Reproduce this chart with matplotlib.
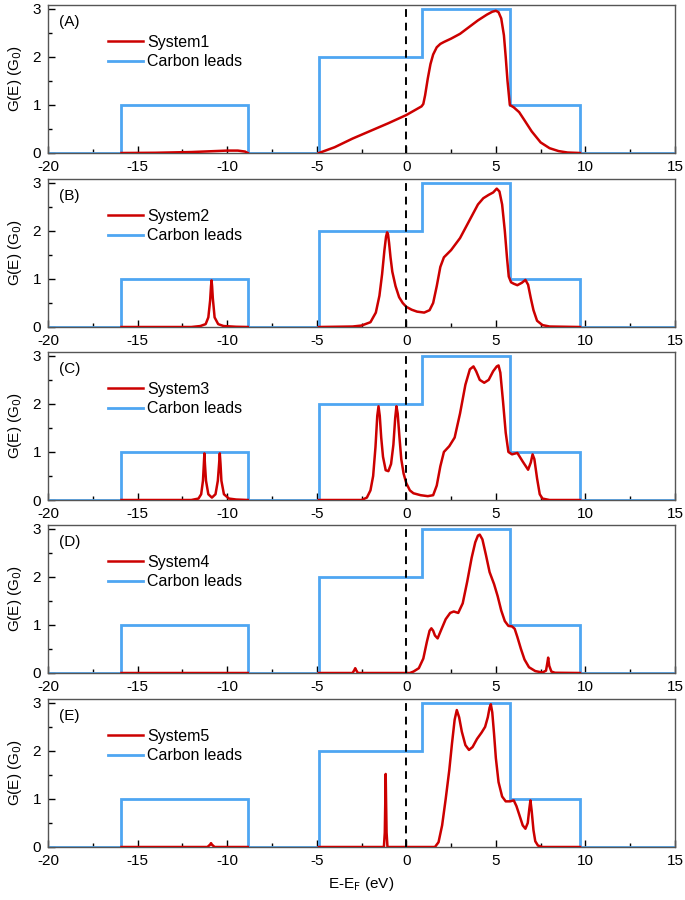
import matplotlib
matplotlib.use("Agg")
import matplotlib.pyplot as plt
import numpy as np
from matplotlib.ticker import MultipleLocator

plt.rcParams['font.family'] = ['Liberation Sans', 'DejaVu Sans']
plt.rcParams['axes.unicode_minus'] = False

# carbon leads: step edges and levels
lead_edges = [-20, -15.9, -8.85, -4.88, 0.85, 5.78, 9.7, 15]
lead_levels = [0, 1, 0, 2, 3, 1, 0]

panel_tags = ['(A)', '(B)', '(C)', '(D)', '(E)']
system_names = ['System1', 'System2', 'System3', 'System4', 'System5']

nan = np.nan
# System1
s1_x = [-15.9, -14, -12, -11, -10, -9.4, -9.0, -8.85, nan,
        -4.88, -4, -3, -2, -1, 0, 0.85, 0.95, 1.05, 1.2, 1.35, 1.5, 1.7, 1.9, 2.1, 2.5, 3.0, 3.5,
        4.0, 4.5, 4.8, 5.0, 5.15, 5.3, 5.45, 5.55, 5.65, 5.78, 6.0, 6.3, 6.6, 7.0, 7.5, 8.0,
        8.5, 9.0, 9.7]
s1_y = [0, 0.005, 0.02, 0.035, 0.05, 0.05, 0.03, 0, nan,
        0, 0.12, 0.3, 0.46, 0.62, 0.79, 0.97, 1.02, 1.2, 1.55, 1.85, 2.05, 2.2, 2.27, 2.31, 2.38, 2.48, 2.62,
        2.76, 2.88, 2.94, 2.96, 2.93, 2.8, 2.45, 2.0, 1.5, 1.0, 0.95, 0.85, 0.68, 0.45, 0.22, 0.1,
        0.04, 0.01, 0]
# System2
s2_x = [-15.9, -12, -11.5, -11.2, -11.05, -10.95, -10.9, -10.87, -10.84, -10.8, -10.7, -10.5, -10.2,
        -9.5, -8.85, nan,
        -4.88, -3, -2.5, -2, -1.7, -1.5, -1.35, -1.22, -1.13, -1.07, -1.02, -0.96, -0.88, -0.78,
        -0.6, -0.4, -0.2, 0, 0.3, 0.6, 1.0, 1.3, 1.5, 1.7, 1.9, 2.1, 2.5, 3.0, 3.5, 4.0, 4.3,
        4.6, 4.85, 5.05, 5.2, 5.35, 5.5, 5.62, 5.72, 5.85, 6.0, 6.2, 6.45, 6.65, 6.8, 6.95, 7.1,
        7.3, 7.6, 8.0, 9.7]
s2_y = [0, 0, 0.02, 0.06, 0.2, 0.55, 0.85, 0.97, 0.85, 0.6, 0.2, 0.06, 0.02,
        0.005, 0, nan,
        0, 0.01, 0.03, 0.1, 0.3, 0.65, 1.1, 1.6, 1.88, 1.97, 1.93, 1.75, 1.45, 1.15,
        0.85, 0.62, 0.5, 0.42, 0.36, 0.32, 0.3, 0.35, 0.5, 0.85, 1.25, 1.45, 1.6, 1.85, 2.2, 2.55,
        2.68, 2.75, 2.8, 2.88, 2.82, 2.55, 2.0, 1.45, 1.05, 0.93, 0.9, 0.87, 0.92, 0.98, 0.88, 0.6,
        0.35, 0.13, 0.04, 0.01, 0]
# System3
s3_x = [-15.9, -12, -11.6, -11.45, -11.35, -11.3, -11.27, -11.24, -11.18, -11.05, -10.85,
        -10.65, -10.52, -10.45, -10.41, -10.37, -10.32, -10.18, -9.9, -9.5, -8.85, nan,
        -4.88, -2.5, -2.2, -2.0, -1.85, -1.72, -1.62, -1.55, -1.48, -1.4, -1.3, -1.15, -1.0,
        -0.85, -0.72, -0.62, -0.55, -0.48, -0.38, -0.28, -0.15, 0.0, 0.2, 0.4, 0.8, 1.2, 1.5,
        1.7, 1.9, 2.1, 2.4, 2.7, 3.0, 3.3, 3.55, 3.75, 3.9, 4.1, 4.35, 4.6, 4.85, 5.05, 5.15,
        5.25, 5.4, 5.55, 5.7, 5.9, 6.2, 6.5, 6.8, 6.95, 7.05, 7.15, 7.3, 7.45, 7.6, 8.0, 9.7]
s3_y = [0, 0, 0.03, 0.12, 0.4, 0.75, 0.97, 0.75, 0.4, 0.12, 0.05,
        0.12, 0.4, 0.75, 0.97, 0.75, 0.4, 0.12, 0.03, 0.01, 0, nan,
        0, 0, 0.05, 0.2, 0.5, 1.1, 1.75, 1.95, 1.75, 1.3, 0.9, 0.62, 0.6,
        0.75, 1.15, 1.7, 1.95, 1.8, 1.3, 0.85, 0.55, 0.35, 0.2, 0.14, 0.1, 0.08, 0.1,
        0.3, 0.7, 1.0, 1.12, 1.3, 1.8, 2.4, 2.72, 2.78, 2.68, 2.5, 2.44, 2.5, 2.68, 2.78, 2.8,
        2.65, 2.05, 1.4, 1.0, 0.95, 0.98, 0.8, 0.63, 0.78, 0.95, 0.85, 0.45, 0.12, 0.03, 0, 0]
# System4
s4_x = [-15.9, -8.85, nan,
        -4.88, -3.0, -2.9, -2.85, -2.8, -2.7, 0.2, 0.4, 0.7, 0.95, 1.15, 1.3, 1.4, 1.5, 1.6,
        1.75, 1.95, 2.2, 2.45, 2.65, 2.9, 3.15, 3.4, 3.65, 3.85, 4.0, 4.1, 4.25, 4.45, 4.65,
        4.9, 5.1, 5.3, 5.5, 5.7, 5.9, 6.05, 6.2, 6.4, 6.6, 6.85, 7.2, 7.6, 7.8, 7.87, 7.92,
        7.98, 8.1, 8.3, 9.7]
s4_y = [0, 0, nan,
        0, 0, 0.06, 0.1, 0.06, 0, 0, 0.03, 0.1, 0.3, 0.65, 0.88, 0.93, 0.88, 0.78,
        0.72, 0.9, 1.12, 1.25, 1.28, 1.25, 1.45, 1.9, 2.4, 2.72, 2.86, 2.88, 2.78, 2.45, 2.1,
        1.85, 1.6, 1.3, 1.08, 0.98, 0.97, 0.92, 0.75, 0.5, 0.28, 0.12, 0.04, 0.01, 0.05, 0.2, 0.32,
        0.15, 0.03, 0.005, 0]
# System5
s5_x = [-15.9, -11.1, -10.95, -10.9, -10.85, -10.7, -8.85, nan,
        -4.88, -1.25, -1.2, -1.17, -1.15, -1.13, -1.1, -1.05, 1.6, 1.8, 2.0, 2.2, 2.4, 2.55,
        2.7, 2.82, 2.95, 3.1, 3.3, 3.5, 3.7, 3.95, 4.2, 4.4, 4.55, 4.65, 4.72, 4.8, 4.9, 5.0,
        5.15, 5.35, 5.55, 5.8, 6.0, 6.15, 6.3, 6.5, 6.65, 6.78, 6.87, 6.93, 7.0, 7.1, 7.2, 7.35,
        7.6, 9.7]
s5_y = [0, 0, 0.05, 0.08, 0.05, 0, 0, nan,
        0, 0, 0.3, 1.0, 1.52, 1.0, 0.3, 0, 0, 0.1, 0.45, 1.0, 1.6, 2.15,
        2.65, 2.85, 2.7, 2.4, 2.12, 2.02, 2.08, 2.25, 2.38, 2.5, 2.7, 2.9, 2.97, 2.8, 2.35, 1.85,
        1.35, 1.05, 0.95, 0.95, 0.97, 0.85, 0.68, 0.45, 0.38, 0.5, 0.8, 0.97, 0.75, 0.35, 0.12, 0.03,
        0, 0]

systems_x = [s1_x, s2_x, s3_x, s4_x, s5_x]
systems_y = [s1_y, s2_y, s3_y, s4_y, s5_y]

red = '#cc0000'
blue = '#4ea6f2'
fs = 11

fig = plt.figure(figsize=(6.85, 9.0), dpi=100)
left = 48 / 685
width = 627 / 685
h = 148 / 900
zero_px = [153, 327, 500, 673, 847]

for i in range(5):
    ax = fig.add_axes([left, 1 - zero_px[i] / 900, width, h])
    ax.plot(systems_x[i], systems_y[i], color=red, lw=1.8, label=system_names[i], zorder=3)
    ax.stairs(lead_levels, lead_edges, color=blue, lw=2.0, baseline=None,
              label='Carbon leads', zorder=2)
    ax.axvline(0, color='black', lw=1.4, ls=(0, (4, 3)), zorder=4)
    ax.set_xlim(-20, 15)
    ax.set_ylim(0, 3.08)
    ax.xaxis.set_major_locator(MultipleLocator(5))
    ax.xaxis.set_minor_locator(MultipleLocator(2.5))
    ax.yaxis.set_major_locator(MultipleLocator(1))
    ax.yaxis.set_minor_locator(MultipleLocator(0.5))
    ax.tick_params(which='both', direction='in', labelsize=fs, top=False, right=False)
    ax.tick_params(which='major', length=5, width=1)
    ax.tick_params(which='minor', length=3, width=1)
    ax.tick_params(axis='x', pad=5)
    ax.tick_params(axis='y', pad=5)
    for sp in ax.spines.values():
        sp.set_color('#555555')
        sp.set_linewidth(1.0)
    ax.set_ylabel('G(E) (G$_\\mathrm{0}$)', fontsize=fs, labelpad=6)
    ax.text(0.018, 0.93, panel_tags[i], transform=ax.transAxes, fontsize=fs,
            va='top', ha='left')
    ax.legend(loc='upper left', bbox_to_anchor=(0.095, 0.80), frameon=False,
              fontsize=fs + 0.5, handlelength=2.2, handletextpad=0.3, labelspacing=0.3,
              borderpad=0, borderaxespad=0)
    if i == 4:
        ax.set_xlabel('E-E$_\\mathrm{F}$ (eV)', fontsize=fs, labelpad=5)

fig.savefig('out.png', dpi=100)
